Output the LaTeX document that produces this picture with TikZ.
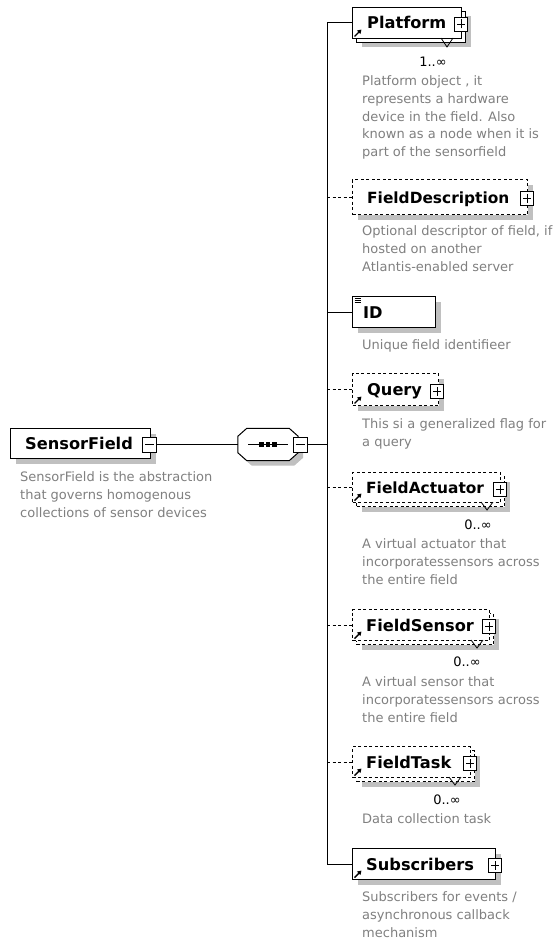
\documentclass[tikz,border=0pt]{standalone}
\usepackage{fontspec}
\setmainfont{DejaVu Sans}
\usetikzlibrary{arrows.meta,shadows}
\definecolor{shadegray}{RGB}{192,192,192}
\definecolor{descgray}{RGB}{128,128,128}
\newcommand\lblfont{\fontsize{16.2}{19}\selectfont\bfseries}
\newcommand\lblfontnarrow{\fontsize{15.4}{19}\selectfont\bfseries}
\newcommand\descfont{\fontsize{13}{17.8}\selectfont}
\begin{document}
\begin{tikzpicture}[x=1pt,y=-1pt,
  elem/.style={draw, line width=1pt, fill=white, inner sep=0, anchor=north west},
  opt/.style={dash pattern=on 3pt off 2.5pt},
  shadowed/.style={drop shadow={shadow xshift=5pt, shadow yshift=-5pt, fill=shadegray, opacity=1}},
  lbl/.style={font=\lblfont, anchor=base west, inner sep=0},
  lblnarrow/.style={lbl, font=\lblfontnarrow},
  desc/.style={font=\descfont, text=descgray, align=left, anchor=north west, inner sep=0},
  mult/.style={font=\descfont, inner sep=0},
  conn/.style={line width=1pt},
  chev/.style={line width=0.8pt},
  arrowicon/.style={line width=1.4pt, -{Triangle[length=4pt,width=4.6pt]}},
  plusbox/.style={draw, line width=0.8pt, fill=white, minimum width=13pt, minimum height=14pt, inner sep=0,
    path picture={\draw[line width=0.8pt]
      ([xshift=-4pt]path picture bounding box.center) -- ([xshift=4pt]path picture bounding box.center)
      ([yshift=-4.5pt]path picture bounding box.center) -- ([yshift=4.5pt]path picture bounding box.center);}},
  minusbox/.style={draw, line width=0.8pt, fill=white, minimum width=14pt, minimum height=15pt, inner sep=0,
    path picture={\draw[line width=0.8pt]
      ([xshift=-4.5pt]path picture bounding box.center) -- ([xshift=4.5pt]path picture bounding box.center);}},
]
\useasboundingbox[fill=white] (0,0) rectangle (555,942);

% ---- root element ----
\node[elem, shadowed, minimum width=140pt, minimum height=30pt] (sf) at (10,428) {};
\node[lbl] (sfL) at (25,449.5) {SensorField};
\node[minusbox] (sfPM) at (149.5,444.5) {};
\node[desc] (sfD) at (20,471.5) {SensorField is the abstraction\\that governs homogenous\\collections of sensor devices};

% ---- sequence compositor ----
\node[inner sep=0, minimum width=60pt, minimum height=32pt] (seq) at (268,444.5) {};
\path[draw, fill=white, shadowed, line width=1pt]
  ([xshift=9pt]seq.north west) -- ([xshift=-9pt]seq.north east) -- ([yshift=-8pt]seq.north east)
  -- ([yshift=8pt]seq.south east) -- ([xshift=-9pt]seq.south east) -- ([xshift=9pt]seq.south west)
  -- ([yshift=8pt]seq.south west) -- ([yshift=-8pt]seq.north west) -- cycle;
\draw[line width=1pt] ([xshift=-20pt]seq.center) -- ([xshift=20pt]seq.center);
\foreach \dx in {-6.5,0,6.5}
  \fill ([xshift=\dx pt]seq.center) +(-2.2,-2.2) rectangle +(2.2,2.2);
\node[minusbox] (seqPM) at (300,444.5) {};

\coordinate (trunk) at (327,444.5);
\draw[conn] (sfPM.east) -- (seq.west);
\draw[conn] (seqPM.east) -- (trunk);

% ---- Platform (1..unbounded) ----
\node[elem, shadowed, minimum width=109pt, minimum height=31pt] (platformB) at (356,11) {};
\node[elem, minimum width=109pt, minimum height=31pt] (platform) at (352,7) {};
\node[lbl] (platformL) at (367,29) {Platform};
\node[plusbox] (platformPM) at (461,24) {};
\draw[arrowicon] ([shift={(2.5,-2.5)}]platform.south west) -- ++(7,-7);
\draw[chev] (441,38) -- (447,47) -- (453,38);
\node[mult] (platformM) at (433,62) {1..∞};
\node[desc] (platformD) at (362,75.5) {Platform object , it\\represents a hardware\\device in the field. Also\\known as a node when it is\\part of the sensorfield};

% ---- FieldDescription (optional) ----
\node[elem, opt, shadowed, minimum width=175pt, minimum height=35pt] (fdesc) at (352,179) {};
\node[lblnarrow] (fdescL) at (367,203) {FieldDescription};
\node[plusbox] (fdescPM) at (527,198) {};
\node[desc] (fdescD) at (362,225.5) {Optional descriptor of field, if\\hosted on another\\Atlantis-enabled server};

% ---- ID ----
\node[elem, shadowed, minimum width=83pt, minimum height=31pt] (id) at (352,296) {};
\node[lbl] (idL) at (363,318) {ID};
\foreach \dy in {2.5,4.5,6.5}
  \draw[line width=0.7pt] ([shift={(2.5,\dy)}]id.north west) -- ++(6,0);
\node[desc] (idD) at (362,339.5) {Unique field identifieer};

% ---- Query (optional) ----
\node[elem, opt, shadowed, minimum width=86pt, minimum height=32pt] (query) at (352,373) {};
\node[lbl] (queryL) at (367,395) {Query};
\node[plusbox] (queryPM) at (437,391) {};
\draw[arrowicon] ([shift={(2.5,-2.5)}]query.south west) -- ++(7,-7);
\node[desc] (queryD) at (362,418.5) {This si a generalized flag for\\a query};

% ---- FieldActuator (0..unbounded) ----
\node[elem, opt, shadowed, minimum width=148pt, minimum height=30pt] (factB) at (356,476) {};
\node[elem, opt, minimum width=148pt, minimum height=30pt] (fact) at (352,472) {};
\node[lblnarrow] (factL) at (366,493) {FieldActuator};
\node[plusbox] (factPM) at (500,489) {};
\draw[arrowicon] ([shift={(2.5,-2.5)}]fact.south west) -- ++(7,-7);
\draw[chev] (481,502) -- (487,510) -- (493,502);
\node[mult] (factM) at (478,525) {0..∞};
\node[desc] (factD) at (362,538.5) {A virtual actuator that\\incorporatessensors across\\the entire field};

% ---- FieldSensor (0..unbounded) ----
\node[elem, opt, shadowed, minimum width=137pt, minimum height=31pt] (fsenB) at (356,613) {};
\node[elem, opt, minimum width=137pt, minimum height=31pt] (fsen) at (352,609) {};
\node[lbl] (fsenL) at (366,631) {FieldSensor};
\node[plusbox] (fsenPM) at (489,626) {};
\draw[arrowicon] ([shift={(2.5,-2.5)}]fsen.south west) -- ++(7,-7);
\draw[chev] (471,640) -- (477,648) -- (483,640);
\node[mult] (fsenM) at (467,662) {0..∞};
\node[desc] (fsenD) at (362,676.5) {A virtual sensor that\\incorporatessensors across\\the entire field};

% ---- FieldTask (0..unbounded) ----
\node[elem, opt, shadowed, minimum width=118pt, minimum height=31pt] (ftaskB) at (356,750) {};
\node[elem, opt, minimum width=118pt, minimum height=31pt] (ftask) at (352,746) {};
\node[lbl] (ftaskL) at (366,768) {FieldTask};
\node[plusbox] (ftaskPM) at (470,763) {};
\draw[arrowicon] ([shift={(2.5,-2.5)}]ftask.south west) -- ++(7,-7);
\draw[chev] (449,777) -- (455,785) -- (461,777);
\node[mult] (ftaskM) at (447,800) {0..∞};
\node[desc] (ftaskD) at (362,813.5) {Data collection task};

% ---- Subscribers ----
\node[elem, shadowed, minimum width=143pt, minimum height=31pt] (subs) at (352,848) {};
\node[lbl] (subsL) at (366,870) {Subscribers};
\node[plusbox] (subsPM) at (495,865) {};
\draw[arrowicon] ([shift={(2.5,-2.5)}]subs.south west) -- ++(7,-7);
\node[desc] (subsD) at (362,891.5) {Subscribers for events /\\asynchronous callback\\mechanism};

% ---- connectors from the sequence trunk ----
\draw[conn] (trunk |- platform.west) -- (trunk |- subs.west);
\draw[conn] (trunk |- platform.west) -- (platform.west);
\draw[conn, opt] (trunk |- fdesc.west) -- (fdesc.west);
\draw[conn] (trunk |- id.west) -- (id.west);
\draw[conn, opt] (trunk |- query.west) -- (query.west);
\draw[conn, opt] (trunk |- fact.west) -- (fact.west);
\draw[conn, opt] (trunk |- fsen.west) -- (fsen.west);
\draw[conn, opt] (trunk |- ftask.west) -- (ftask.west);
\draw[conn] (trunk |- subs.west) -- (subs.west);
\end{tikzpicture}
\end{document}
